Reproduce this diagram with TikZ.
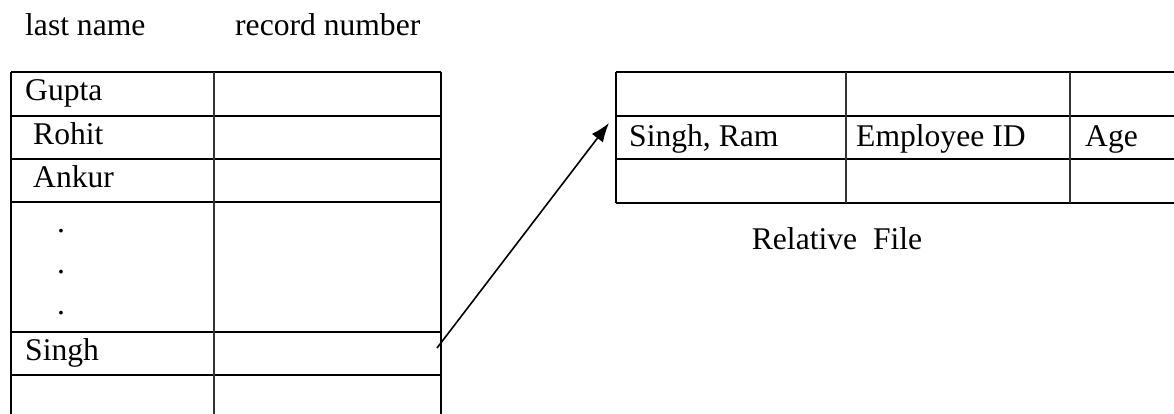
\documentclass[tikz,border=0pt]{standalone}
\usepackage{fontspec}
\setmainfont{Liberation Serif}
\usetikzlibrary{arrows.meta}
\begin{document}
\begin{tikzpicture}[x=1pt,y=-1pt,
  border/.style={line width=2.2pt,black},
  divider/.style={line width=1.3pt,black!80},
  txt/.style={anchor=base west,inner sep=0pt,font=\fontsize{31.6}{36}\selectfont},
  pointer/.style={line width=1.6pt,-{Latex[length=19pt,width=14pt]}}]
\useasboundingbox (0,0) rectangle (1174,414);
\clip (0,0) rectangle (1174,414);
% headers
\node[txt] (hname) at (25,36) {last name};
\node[txt] (hrec) at (235,36) {record number};
% left table
\foreach \y in {72,116,159,202,332,375}
  \draw[border] (11,\y) -- (441,\y);
\draw[border] (11,72) -- (11,420);
\draw[border] (441,72) -- (441,420);
\draw[divider] (214,72) -- (214,420);
\node[txt] (gupta) at (25,101) {Gupta};
\node[txt] (rohit) at (33,145) {Rohit};
\node[txt] (ankur) at (33,188) {Ankur};
\node[txt] (d1) at (57,232) {.};
\node[txt] (d2) at (57,273) {.};
\node[txt] (d3) at (57,314) {.};
\node[txt] (singh) at (25,360) {Singh};
% right table
\foreach \y in {72,116,159,203}
  \draw[border] (616,\y) -- (1176,\y);
\draw[border] (616,72) -- (616,203);
\draw[divider] (846,72) -- (846,203);
\draw[divider] (1070,72) -- (1070,203);
\node[txt] (sr) at (629,147) {Singh, Ram};
\node[txt] (eid) at (856,147) {Employee ID};
\node[txt] (age) at (1085,147) {Age};
\node[anchor=base,inner sep=0pt,font=\fontsize{31.6}{36}\selectfont] (rf) at (837,249) {Relative\ \ File};
% pointer
\coordinate (from) at (437,348);
\coordinate (to) at (609,123);
\draw[pointer] (from) -- (to);
\end{tikzpicture}
\end{document}
